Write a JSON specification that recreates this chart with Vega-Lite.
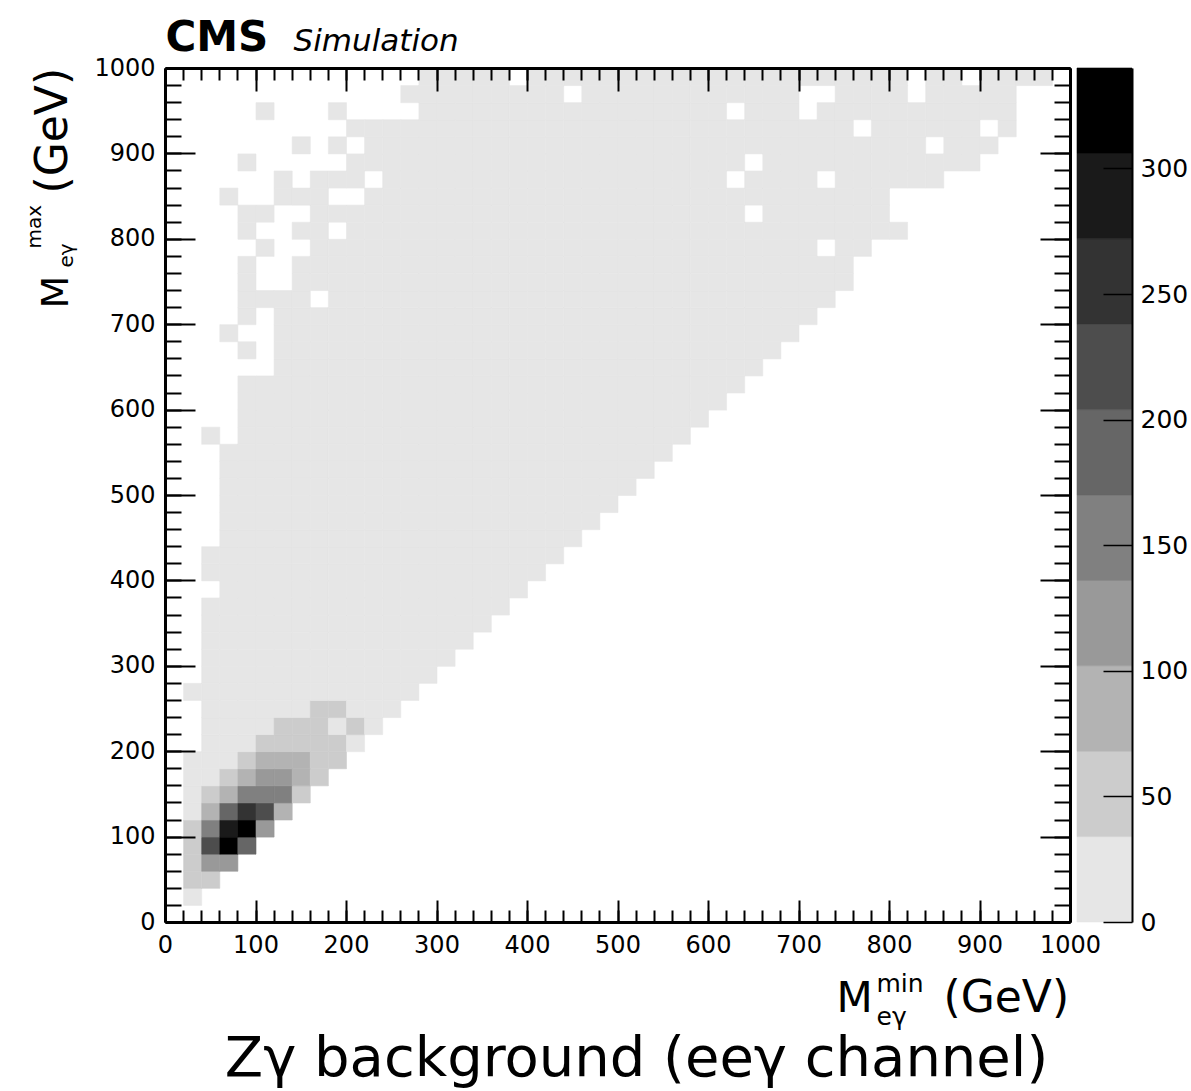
{
"$schema": "https://vega.github.io/schema/vega-lite/v6.json",
"width": 905,
"height": 854,
"autosize": {"type": "none"},
"padding": {"left": 165, "top": 68, "right": 121, "bottom": 169},
"background": "white",
"config": {
  "view": {"stroke": null},
  "font": "DejaVu Sans",
  "axis": {"grid": false, "labelFont": "DejaVu Sans", "labelColor": "black", "labelFontSize": 24, "format": "d", "tickColor": "black", "domainColor": "black", "titleColor": "black", "titleFont": "DejaVu Sans", "titleFontWeight": "normal", "labelFlush": false, "labelOverlap": false, "labelBound": false}
},
"datasets": {
"bands": [{"lo":0,"hi":34},{"lo":34,"hi":68},{"lo":68,"hi":102},{"lo":102,"hi":136},{"lo":136,"hi":170},{"lo":170,"hi":204},{"lo":204,"hi":238},{"lo":238,"hi":272},{"lo":272,"hi":306},{"lo":306,"hi":340}],
"cells": [
{"x":20,"y":20,"n":10},
{"x":20,"y":40,"n":50},{"x":40,"y":40,"n":50},
{"x":20,"y":60,"n":50},{"x":40,"y":60,"n":120},{"x":60,"y":60,"n":120},
{"x":20,"y":80,"n":50},{"x":40,"y":80,"n":220},{"x":60,"y":80,"n":325},{"x":80,"y":80,"n":185},
{"x":20,"y":100,"n":50},{"x":40,"y":100,"n":150},{"x":60,"y":100,"n":290},{"x":80,"y":100,"n":335},{"x":100,"y":100,"n":120},
{"x":20,"y":120,"n":10},{"x":40,"y":120,"n":85},{"x":60,"y":120,"n":190},{"x":80,"y":120,"n":255},{"x":100,"y":120,"n":220},{"x":120,"y":120,"n":85},
{"x":20,"y":140,"n":10},{"x":40,"y":140,"n":50},{"x":60,"y":140,"n":85},{"x":80,"y":140,"n":150},{"x":100,"y":140,"n":150},{"x":120,"y":140,"n":150},{"x":140,"y":140,"n":50},
{"x":20,"y":160,"n":10},{"x":40,"y":160,"n":10},{"x":60,"y":160,"n":50},{"x":80,"y":160,"n":85},{"x":100,"y":160,"n":120},{"x":120,"y":160,"n":120},{"x":140,"y":160,"n":85},{"x":160,"y":160,"n":50},
{"x":20,"y":180,"n":10},{"x":40,"y":180,"n":10},{"x":60,"y":180,"n":10},{"x":80,"y":180,"n":50},{"x":100,"y":180,"n":85},{"x":120,"y":180,"n":85},{"x":140,"y":180,"n":85},{"x":160,"y":180,"n":50},{"x":180,"y":180,"n":50},
{"x":40,"y":200,"n":10},{"x":60,"y":200,"n":10},{"x":80,"y":200,"n":10},{"x":100,"y":200,"n":50},{"x":120,"y":200,"n":50},{"x":140,"y":200,"n":50},{"x":160,"y":200,"n":50},{"x":180,"y":200,"n":50},{"x":200,"y":200,"n":10},
{"x":40,"y":220,"n":10},{"x":60,"y":220,"n":10},{"x":80,"y":220,"n":10},{"x":100,"y":220,"n":10},{"x":120,"y":220,"n":50},{"x":140,"y":220,"n":50},{"x":160,"y":220,"n":50},{"x":180,"y":220,"n":10},{"x":200,"y":220,"n":50},{"x":220,"y":220,"n":10},
{"x":40,"y":240,"n":10},{"x":60,"y":240,"n":10},{"x":80,"y":240,"n":10},{"x":100,"y":240,"n":10},{"x":120,"y":240,"n":10},{"x":140,"y":240,"n":10},{"x":160,"y":240,"n":50},{"x":180,"y":240,"n":50},{"x":200,"y":240,"n":10},{"x":220,"y":240,"n":10},{"x":240,"y":240,"n":10},
{"x":20,"y":260,"n":10},{"x":40,"y":260,"n":10},{"x":60,"y":260,"n":10},{"x":80,"y":260,"n":10},{"x":100,"y":260,"n":10},{"x":120,"y":260,"n":10},{"x":140,"y":260,"n":10},{"x":160,"y":260,"n":10},{"x":180,"y":260,"n":10},{"x":200,"y":260,"n":10},{"x":220,"y":260,"n":10},{"x":240,"y":260,"n":10},{"x":260,"y":260,"n":10},
{"x":40,"y":280,"n":10},{"x":60,"y":280,"n":10},{"x":80,"y":280,"n":10},{"x":100,"y":280,"n":10},{"x":120,"y":280,"n":10},{"x":140,"y":280,"n":10},{"x":160,"y":280,"n":10},{"x":180,"y":280,"n":10},{"x":200,"y":280,"n":10},{"x":220,"y":280,"n":10},{"x":240,"y":280,"n":10},{"x":260,"y":280,"n":10},{"x":280,"y":280,"n":10},
{"x":40,"y":300,"n":10},{"x":60,"y":300,"n":10},{"x":80,"y":300,"n":10},{"x":100,"y":300,"n":10},{"x":120,"y":300,"n":10},{"x":140,"y":300,"n":10},{"x":160,"y":300,"n":10},{"x":180,"y":300,"n":10},{"x":200,"y":300,"n":10},{"x":220,"y":300,"n":10},{"x":240,"y":300,"n":10},{"x":260,"y":300,"n":10},{"x":280,"y":300,"n":10},{"x":300,"y":300,"n":10},
{"x":40,"y":320,"n":10},{"x":60,"y":320,"n":10},{"x":80,"y":320,"n":10},{"x":100,"y":320,"n":10},{"x":120,"y":320,"n":10},{"x":140,"y":320,"n":10},{"x":160,"y":320,"n":10},{"x":180,"y":320,"n":10},{"x":200,"y":320,"n":10},{"x":220,"y":320,"n":10},{"x":240,"y":320,"n":10},{"x":260,"y":320,"n":10},{"x":280,"y":320,"n":10},{"x":300,"y":320,"n":10},{"x":320,"y":320,"n":10},
{"x":40,"y":340,"n":10},{"x":60,"y":340,"n":10},{"x":80,"y":340,"n":10},{"x":100,"y":340,"n":10},{"x":120,"y":340,"n":10},{"x":140,"y":340,"n":10},{"x":160,"y":340,"n":10},{"x":180,"y":340,"n":10},{"x":200,"y":340,"n":10},{"x":220,"y":340,"n":10},{"x":240,"y":340,"n":10},{"x":260,"y":340,"n":10},{"x":280,"y":340,"n":10},{"x":300,"y":340,"n":10},{"x":320,"y":340,"n":10},{"x":340,"y":340,"n":10},
{"x":40,"y":360,"n":10},{"x":60,"y":360,"n":10},{"x":80,"y":360,"n":10},{"x":100,"y":360,"n":10},{"x":120,"y":360,"n":10},{"x":140,"y":360,"n":10},{"x":160,"y":360,"n":10},{"x":180,"y":360,"n":10},{"x":200,"y":360,"n":10},{"x":220,"y":360,"n":10},{"x":240,"y":360,"n":10},{"x":260,"y":360,"n":10},{"x":280,"y":360,"n":10},{"x":300,"y":360,"n":10},{"x":320,"y":360,"n":10},{"x":340,"y":360,"n":10},{"x":360,"y":360,"n":10},
{"x":60,"y":380,"n":10},{"x":80,"y":380,"n":10},{"x":100,"y":380,"n":10},{"x":120,"y":380,"n":10},{"x":140,"y":380,"n":10},{"x":160,"y":380,"n":10},{"x":180,"y":380,"n":10},{"x":200,"y":380,"n":10},{"x":220,"y":380,"n":10},{"x":240,"y":380,"n":10},{"x":260,"y":380,"n":10},{"x":280,"y":380,"n":10},{"x":300,"y":380,"n":10},{"x":320,"y":380,"n":10},{"x":340,"y":380,"n":10},{"x":360,"y":380,"n":10},{"x":380,"y":380,"n":10},
{"x":40,"y":400,"n":10},{"x":60,"y":400,"n":10},{"x":80,"y":400,"n":10},{"x":100,"y":400,"n":10},{"x":120,"y":400,"n":10},{"x":140,"y":400,"n":10},{"x":160,"y":400,"n":10},{"x":180,"y":400,"n":10},{"x":200,"y":400,"n":10},{"x":220,"y":400,"n":10},{"x":240,"y":400,"n":10},{"x":260,"y":400,"n":10},{"x":280,"y":400,"n":10},{"x":300,"y":400,"n":10},{"x":320,"y":400,"n":10},{"x":340,"y":400,"n":10},{"x":360,"y":400,"n":10},{"x":380,"y":400,"n":10},{"x":400,"y":400,"n":10},
{"x":40,"y":420,"n":10},{"x":60,"y":420,"n":10},{"x":80,"y":420,"n":10},{"x":100,"y":420,"n":10},{"x":120,"y":420,"n":10},{"x":140,"y":420,"n":10},{"x":160,"y":420,"n":10},{"x":180,"y":420,"n":10},{"x":200,"y":420,"n":10},{"x":220,"y":420,"n":10},{"x":240,"y":420,"n":10},{"x":260,"y":420,"n":10},{"x":280,"y":420,"n":10},{"x":300,"y":420,"n":10},{"x":320,"y":420,"n":10},{"x":340,"y":420,"n":10},{"x":360,"y":420,"n":10},{"x":380,"y":420,"n":10},{"x":400,"y":420,"n":10},{"x":420,"y":420,"n":10},
{"x":60,"y":440,"n":10},{"x":80,"y":440,"n":10},{"x":100,"y":440,"n":10},{"x":120,"y":440,"n":10},{"x":140,"y":440,"n":10},{"x":160,"y":440,"n":10},{"x":180,"y":440,"n":10},{"x":200,"y":440,"n":10},{"x":220,"y":440,"n":10},{"x":240,"y":440,"n":10},{"x":260,"y":440,"n":10},{"x":280,"y":440,"n":10},{"x":300,"y":440,"n":10},{"x":320,"y":440,"n":10},{"x":340,"y":440,"n":10},{"x":360,"y":440,"n":10},{"x":380,"y":440,"n":10},{"x":400,"y":440,"n":10},{"x":420,"y":440,"n":10},{"x":440,"y":440,"n":10},
{"x":60,"y":460,"n":10},{"x":80,"y":460,"n":10},{"x":100,"y":460,"n":10},{"x":120,"y":460,"n":10},{"x":140,"y":460,"n":10},{"x":160,"y":460,"n":10},{"x":180,"y":460,"n":10},{"x":200,"y":460,"n":10},{"x":220,"y":460,"n":10},{"x":240,"y":460,"n":10},{"x":260,"y":460,"n":10},{"x":280,"y":460,"n":10},{"x":300,"y":460,"n":10},{"x":320,"y":460,"n":10},{"x":340,"y":460,"n":10},{"x":360,"y":460,"n":10},{"x":380,"y":460,"n":10},{"x":400,"y":460,"n":10},{"x":420,"y":460,"n":10},{"x":440,"y":460,"n":10},{"x":460,"y":460,"n":10},
{"x":60,"y":480,"n":10},{"x":80,"y":480,"n":10},{"x":100,"y":480,"n":10},{"x":120,"y":480,"n":10},{"x":140,"y":480,"n":10},{"x":160,"y":480,"n":10},{"x":180,"y":480,"n":10},{"x":200,"y":480,"n":10},{"x":220,"y":480,"n":10},{"x":240,"y":480,"n":10},{"x":260,"y":480,"n":10},{"x":280,"y":480,"n":10},{"x":300,"y":480,"n":10},{"x":320,"y":480,"n":10},{"x":340,"y":480,"n":10},{"x":360,"y":480,"n":10},{"x":380,"y":480,"n":10},{"x":400,"y":480,"n":10},{"x":420,"y":480,"n":10},{"x":440,"y":480,"n":10},{"x":460,"y":480,"n":10},{"x":480,"y":480,"n":10},
{"x":60,"y":500,"n":10},{"x":80,"y":500,"n":10},{"x":100,"y":500,"n":10},{"x":120,"y":500,"n":10},{"x":140,"y":500,"n":10},{"x":160,"y":500,"n":10},{"x":180,"y":500,"n":10},{"x":200,"y":500,"n":10},{"x":220,"y":500,"n":10},{"x":240,"y":500,"n":10},{"x":260,"y":500,"n":10},{"x":280,"y":500,"n":10},{"x":300,"y":500,"n":10},{"x":320,"y":500,"n":10},{"x":340,"y":500,"n":10},{"x":360,"y":500,"n":10},{"x":380,"y":500,"n":10},{"x":400,"y":500,"n":10},{"x":420,"y":500,"n":10},{"x":440,"y":500,"n":10},{"x":460,"y":500,"n":10},{"x":480,"y":500,"n":10},{"x":500,"y":500,"n":10},
{"x":60,"y":520,"n":10},{"x":80,"y":520,"n":10},{"x":100,"y":520,"n":10},{"x":120,"y":520,"n":10},{"x":140,"y":520,"n":10},{"x":160,"y":520,"n":10},{"x":180,"y":520,"n":10},{"x":200,"y":520,"n":10},{"x":220,"y":520,"n":10},{"x":240,"y":520,"n":10},{"x":260,"y":520,"n":10},{"x":280,"y":520,"n":10},{"x":300,"y":520,"n":10},{"x":320,"y":520,"n":10},{"x":340,"y":520,"n":10},{"x":360,"y":520,"n":10},{"x":380,"y":520,"n":10},{"x":400,"y":520,"n":10},{"x":420,"y":520,"n":10},{"x":440,"y":520,"n":10},{"x":460,"y":520,"n":10},{"x":480,"y":520,"n":10},{"x":500,"y":520,"n":10},{"x":520,"y":520,"n":10},
{"x":60,"y":540,"n":10},{"x":80,"y":540,"n":10},{"x":100,"y":540,"n":10},{"x":120,"y":540,"n":10},{"x":140,"y":540,"n":10},{"x":160,"y":540,"n":10},{"x":180,"y":540,"n":10},{"x":200,"y":540,"n":10},{"x":220,"y":540,"n":10},{"x":240,"y":540,"n":10},{"x":260,"y":540,"n":10},{"x":280,"y":540,"n":10},{"x":300,"y":540,"n":10},{"x":320,"y":540,"n":10},{"x":340,"y":540,"n":10},{"x":360,"y":540,"n":10},{"x":380,"y":540,"n":10},{"x":400,"y":540,"n":10},{"x":420,"y":540,"n":10},{"x":440,"y":540,"n":10},{"x":460,"y":540,"n":10},{"x":480,"y":540,"n":10},{"x":500,"y":540,"n":10},{"x":520,"y":540,"n":10},{"x":540,"y":540,"n":10},
{"x":40,"y":560,"n":10},{"x":80,"y":560,"n":10},{"x":100,"y":560,"n":10},{"x":120,"y":560,"n":10},{"x":140,"y":560,"n":10},{"x":160,"y":560,"n":10},{"x":180,"y":560,"n":10},{"x":200,"y":560,"n":10},{"x":220,"y":560,"n":10},{"x":240,"y":560,"n":10},{"x":260,"y":560,"n":10},{"x":280,"y":560,"n":10},{"x":300,"y":560,"n":10},{"x":320,"y":560,"n":10},{"x":340,"y":560,"n":10},{"x":360,"y":560,"n":10},{"x":380,"y":560,"n":10},{"x":400,"y":560,"n":10},{"x":420,"y":560,"n":10},{"x":440,"y":560,"n":10},{"x":460,"y":560,"n":10},{"x":480,"y":560,"n":10},{"x":500,"y":560,"n":10},{"x":520,"y":560,"n":10},{"x":540,"y":560,"n":10},{"x":560,"y":560,"n":10},
{"x":80,"y":580,"n":10},{"x":100,"y":580,"n":10},{"x":120,"y":580,"n":10},{"x":140,"y":580,"n":10},{"x":160,"y":580,"n":10},{"x":180,"y":580,"n":10},{"x":200,"y":580,"n":10},{"x":220,"y":580,"n":10},{"x":240,"y":580,"n":10},{"x":260,"y":580,"n":10},{"x":280,"y":580,"n":10},{"x":300,"y":580,"n":10},{"x":320,"y":580,"n":10},{"x":340,"y":580,"n":10},{"x":360,"y":580,"n":10},{"x":380,"y":580,"n":10},{"x":400,"y":580,"n":10},{"x":420,"y":580,"n":10},{"x":440,"y":580,"n":10},{"x":460,"y":580,"n":10},{"x":480,"y":580,"n":10},{"x":500,"y":580,"n":10},{"x":520,"y":580,"n":10},{"x":540,"y":580,"n":10},{"x":560,"y":580,"n":10},{"x":580,"y":580,"n":10},
{"x":80,"y":600,"n":10},{"x":100,"y":600,"n":10},{"x":120,"y":600,"n":10},{"x":140,"y":600,"n":10},{"x":160,"y":600,"n":10},{"x":180,"y":600,"n":10},{"x":200,"y":600,"n":10},{"x":220,"y":600,"n":10},{"x":240,"y":600,"n":10},{"x":260,"y":600,"n":10},{"x":280,"y":600,"n":10},{"x":300,"y":600,"n":10},{"x":320,"y":600,"n":10},{"x":340,"y":600,"n":10},{"x":360,"y":600,"n":10},{"x":380,"y":600,"n":10},{"x":400,"y":600,"n":10},{"x":420,"y":600,"n":10},{"x":440,"y":600,"n":10},{"x":460,"y":600,"n":10},{"x":480,"y":600,"n":10},{"x":500,"y":600,"n":10},{"x":520,"y":600,"n":10},{"x":540,"y":600,"n":10},{"x":560,"y":600,"n":10},{"x":580,"y":600,"n":10},{"x":600,"y":600,"n":10},
{"x":80,"y":620,"n":10},{"x":100,"y":620,"n":10},{"x":120,"y":620,"n":10},{"x":140,"y":620,"n":10},{"x":160,"y":620,"n":10},{"x":180,"y":620,"n":10},{"x":200,"y":620,"n":10},{"x":220,"y":620,"n":10},{"x":240,"y":620,"n":10},{"x":260,"y":620,"n":10},{"x":280,"y":620,"n":10},{"x":300,"y":620,"n":10},{"x":320,"y":620,"n":10},{"x":340,"y":620,"n":10},{"x":360,"y":620,"n":10},{"x":380,"y":620,"n":10},{"x":400,"y":620,"n":10},{"x":420,"y":620,"n":10},{"x":440,"y":620,"n":10},{"x":460,"y":620,"n":10},{"x":480,"y":620,"n":10},{"x":500,"y":620,"n":10},{"x":520,"y":620,"n":10},{"x":540,"y":620,"n":10},{"x":560,"y":620,"n":10},{"x":580,"y":620,"n":10},{"x":600,"y":620,"n":10},{"x":620,"y":620,"n":10},
{"x":120,"y":640,"n":10},{"x":140,"y":640,"n":10},{"x":160,"y":640,"n":10},{"x":180,"y":640,"n":10},{"x":200,"y":640,"n":10},{"x":220,"y":640,"n":10},{"x":240,"y":640,"n":10},{"x":260,"y":640,"n":10},{"x":280,"y":640,"n":10},{"x":300,"y":640,"n":10},{"x":320,"y":640,"n":10},{"x":340,"y":640,"n":10},{"x":360,"y":640,"n":10},{"x":380,"y":640,"n":10},{"x":400,"y":640,"n":10},{"x":420,"y":640,"n":10},{"x":440,"y":640,"n":10},{"x":460,"y":640,"n":10},{"x":480,"y":640,"n":10},{"x":500,"y":640,"n":10},{"x":520,"y":640,"n":10},{"x":540,"y":640,"n":10},{"x":560,"y":640,"n":10},{"x":580,"y":640,"n":10},{"x":600,"y":640,"n":10},{"x":620,"y":640,"n":10},{"x":640,"y":640,"n":10},
{"x":80,"y":660,"n":10},{"x":120,"y":660,"n":10},{"x":140,"y":660,"n":10},{"x":160,"y":660,"n":10},{"x":180,"y":660,"n":10},{"x":200,"y":660,"n":10},{"x":220,"y":660,"n":10},{"x":240,"y":660,"n":10},{"x":260,"y":660,"n":10},{"x":280,"y":660,"n":10},{"x":300,"y":660,"n":10},{"x":320,"y":660,"n":10},{"x":340,"y":660,"n":10},{"x":360,"y":660,"n":10},{"x":380,"y":660,"n":10},{"x":400,"y":660,"n":10},{"x":420,"y":660,"n":10},{"x":440,"y":660,"n":10},{"x":460,"y":660,"n":10},{"x":480,"y":660,"n":10},{"x":500,"y":660,"n":10},{"x":520,"y":660,"n":10},{"x":540,"y":660,"n":10},{"x":560,"y":660,"n":10},{"x":580,"y":660,"n":10},{"x":600,"y":660,"n":10},{"x":620,"y":660,"n":10},{"x":640,"y":660,"n":10},{"x":660,"y":660,"n":10},
{"x":60,"y":680,"n":10},{"x":120,"y":680,"n":10},{"x":140,"y":680,"n":10},{"x":160,"y":680,"n":10},{"x":180,"y":680,"n":10},{"x":200,"y":680,"n":10},{"x":220,"y":680,"n":10},{"x":240,"y":680,"n":10},{"x":260,"y":680,"n":10},{"x":280,"y":680,"n":10},{"x":300,"y":680,"n":10},{"x":320,"y":680,"n":10},{"x":340,"y":680,"n":10},{"x":360,"y":680,"n":10},{"x":380,"y":680,"n":10},{"x":400,"y":680,"n":10},{"x":420,"y":680,"n":10},{"x":440,"y":680,"n":10},{"x":460,"y":680,"n":10},{"x":480,"y":680,"n":10},{"x":500,"y":680,"n":10},{"x":520,"y":680,"n":10},{"x":540,"y":680,"n":10},{"x":560,"y":680,"n":10},{"x":580,"y":680,"n":10},{"x":600,"y":680,"n":10},{"x":620,"y":680,"n":10},{"x":640,"y":680,"n":10},{"x":660,"y":680,"n":10},{"x":680,"y":680,"n":10},
{"x":80,"y":700,"n":10},{"x":120,"y":700,"n":10},{"x":140,"y":700,"n":10},{"x":160,"y":700,"n":10},{"x":180,"y":700,"n":10},{"x":200,"y":700,"n":10},{"x":220,"y":700,"n":10},{"x":240,"y":700,"n":10},{"x":260,"y":700,"n":10},{"x":280,"y":700,"n":10},{"x":300,"y":700,"n":10},{"x":320,"y":700,"n":10},{"x":340,"y":700,"n":10},{"x":360,"y":700,"n":10},{"x":380,"y":700,"n":10},{"x":400,"y":700,"n":10},{"x":420,"y":700,"n":10},{"x":440,"y":700,"n":10},{"x":460,"y":700,"n":10},{"x":480,"y":700,"n":10},{"x":500,"y":700,"n":10},{"x":520,"y":700,"n":10},{"x":540,"y":700,"n":10},{"x":560,"y":700,"n":10},{"x":580,"y":700,"n":10},{"x":600,"y":700,"n":10},{"x":620,"y":700,"n":10},{"x":640,"y":700,"n":10},{"x":660,"y":700,"n":10},{"x":680,"y":700,"n":10},{"x":700,"y":700,"n":10},
{"x":80,"y":720,"n":10},{"x":100,"y":720,"n":10},{"x":120,"y":720,"n":10},{"x":140,"y":720,"n":10},{"x":180,"y":720,"n":10},{"x":200,"y":720,"n":10},{"x":220,"y":720,"n":10},{"x":240,"y":720,"n":10},{"x":260,"y":720,"n":10},{"x":280,"y":720,"n":10},{"x":300,"y":720,"n":10},{"x":320,"y":720,"n":10},{"x":340,"y":720,"n":10},{"x":360,"y":720,"n":10},{"x":380,"y":720,"n":10},{"x":400,"y":720,"n":10},{"x":420,"y":720,"n":10},{"x":440,"y":720,"n":10},{"x":460,"y":720,"n":10},{"x":480,"y":720,"n":10},{"x":500,"y":720,"n":10},{"x":520,"y":720,"n":10},{"x":540,"y":720,"n":10},{"x":560,"y":720,"n":10},{"x":580,"y":720,"n":10},{"x":600,"y":720,"n":10},{"x":620,"y":720,"n":10},{"x":640,"y":720,"n":10},{"x":660,"y":720,"n":10},{"x":680,"y":720,"n":10},{"x":700,"y":720,"n":10},{"x":720,"y":720,"n":10},
{"x":80,"y":740,"n":10},{"x":140,"y":740,"n":10},{"x":160,"y":740,"n":10},{"x":180,"y":740,"n":10},{"x":200,"y":740,"n":10},{"x":220,"y":740,"n":10},{"x":240,"y":740,"n":10},{"x":260,"y":740,"n":10},{"x":280,"y":740,"n":10},{"x":300,"y":740,"n":10},{"x":320,"y":740,"n":10},{"x":340,"y":740,"n":10},{"x":360,"y":740,"n":10},{"x":380,"y":740,"n":10},{"x":400,"y":740,"n":10},{"x":420,"y":740,"n":10},{"x":440,"y":740,"n":10},{"x":460,"y":740,"n":10},{"x":480,"y":740,"n":10},{"x":500,"y":740,"n":10},{"x":520,"y":740,"n":10},{"x":540,"y":740,"n":10},{"x":560,"y":740,"n":10},{"x":580,"y":740,"n":10},{"x":600,"y":740,"n":10},{"x":620,"y":740,"n":10},{"x":640,"y":740,"n":10},{"x":660,"y":740,"n":10},{"x":680,"y":740,"n":10},{"x":700,"y":740,"n":10},{"x":720,"y":740,"n":10},{"x":740,"y":740,"n":10},
{"x":80,"y":760,"n":10},{"x":140,"y":760,"n":10},{"x":160,"y":760,"n":10},{"x":180,"y":760,"n":10},{"x":200,"y":760,"n":10},{"x":220,"y":760,"n":10},{"x":240,"y":760,"n":10},{"x":260,"y":760,"n":10},{"x":280,"y":760,"n":10},{"x":300,"y":760,"n":10},{"x":320,"y":760,"n":10},{"x":340,"y":760,"n":10},{"x":360,"y":760,"n":10},{"x":380,"y":760,"n":10},{"x":400,"y":760,"n":10},{"x":420,"y":760,"n":10},{"x":440,"y":760,"n":10},{"x":460,"y":760,"n":10},{"x":480,"y":760,"n":10},{"x":500,"y":760,"n":10},{"x":520,"y":760,"n":10},{"x":540,"y":760,"n":10},{"x":560,"y":760,"n":10},{"x":580,"y":760,"n":10},{"x":600,"y":760,"n":10},{"x":620,"y":760,"n":10},{"x":640,"y":760,"n":10},{"x":660,"y":760,"n":10},{"x":680,"y":760,"n":10},{"x":700,"y":760,"n":10},{"x":720,"y":760,"n":10},{"x":740,"y":760,"n":10},
{"x":100,"y":780,"n":10},{"x":160,"y":780,"n":10},{"x":180,"y":780,"n":10},{"x":200,"y":780,"n":10},{"x":220,"y":780,"n":10},{"x":240,"y":780,"n":10},{"x":260,"y":780,"n":10},{"x":280,"y":780,"n":10},{"x":300,"y":780,"n":10},{"x":320,"y":780,"n":10},{"x":340,"y":780,"n":10},{"x":360,"y":780,"n":10},{"x":380,"y":780,"n":10},{"x":400,"y":780,"n":10},{"x":420,"y":780,"n":10},{"x":440,"y":780,"n":10},{"x":460,"y":780,"n":10},{"x":480,"y":780,"n":10},{"x":500,"y":780,"n":10},{"x":520,"y":780,"n":10},{"x":540,"y":780,"n":10},{"x":560,"y":780,"n":10},{"x":580,"y":780,"n":10},{"x":600,"y":780,"n":10},{"x":620,"y":780,"n":10},{"x":640,"y":780,"n":10},{"x":660,"y":780,"n":10},{"x":680,"y":780,"n":10},{"x":700,"y":780,"n":10},{"x":740,"y":780,"n":10},{"x":760,"y":780,"n":10},
{"x":80,"y":800,"n":10},{"x":140,"y":800,"n":10},{"x":160,"y":800,"n":10},{"x":200,"y":800,"n":10},{"x":220,"y":800,"n":10},{"x":240,"y":800,"n":10},{"x":260,"y":800,"n":10},{"x":280,"y":800,"n":10},{"x":300,"y":800,"n":10},{"x":320,"y":800,"n":10},{"x":340,"y":800,"n":10},{"x":360,"y":800,"n":10},{"x":380,"y":800,"n":10},{"x":400,"y":800,"n":10},{"x":420,"y":800,"n":10},{"x":440,"y":800,"n":10},{"x":460,"y":800,"n":10},{"x":480,"y":800,"n":10},{"x":500,"y":800,"n":10},{"x":520,"y":800,"n":10},{"x":540,"y":800,"n":10},{"x":560,"y":800,"n":10},{"x":580,"y":800,"n":10},{"x":600,"y":800,"n":10},{"x":620,"y":800,"n":10},{"x":640,"y":800,"n":10},{"x":660,"y":800,"n":10},{"x":680,"y":800,"n":10},{"x":700,"y":800,"n":10},{"x":720,"y":800,"n":10},{"x":740,"y":800,"n":10},{"x":760,"y":800,"n":10},{"x":780,"y":800,"n":10},{"x":800,"y":800,"n":10},
{"x":80,"y":820,"n":10},{"x":100,"y":820,"n":10},{"x":160,"y":820,"n":10},{"x":180,"y":820,"n":10},{"x":200,"y":820,"n":10},{"x":220,"y":820,"n":10},{"x":240,"y":820,"n":10},{"x":260,"y":820,"n":10},{"x":280,"y":820,"n":10},{"x":300,"y":820,"n":10},{"x":320,"y":820,"n":10},{"x":340,"y":820,"n":10},{"x":360,"y":820,"n":10},{"x":380,"y":820,"n":10},{"x":400,"y":820,"n":10},{"x":420,"y":820,"n":10},{"x":440,"y":820,"n":10},{"x":460,"y":820,"n":10},{"x":480,"y":820,"n":10},{"x":500,"y":820,"n":10},{"x":520,"y":820,"n":10},{"x":540,"y":820,"n":10},{"x":560,"y":820,"n":10},{"x":580,"y":820,"n":10},{"x":600,"y":820,"n":10},{"x":620,"y":820,"n":10},{"x":660,"y":820,"n":10},{"x":680,"y":820,"n":10},{"x":700,"y":820,"n":10},{"x":720,"y":820,"n":10},{"x":740,"y":820,"n":10},{"x":760,"y":820,"n":10},{"x":780,"y":820,"n":10},
{"x":60,"y":840,"n":10},{"x":120,"y":840,"n":10},{"x":140,"y":840,"n":10},{"x":160,"y":840,"n":10},{"x":220,"y":840,"n":10},{"x":240,"y":840,"n":10},{"x":260,"y":840,"n":10},{"x":280,"y":840,"n":10},{"x":300,"y":840,"n":10},{"x":320,"y":840,"n":10},{"x":340,"y":840,"n":10},{"x":360,"y":840,"n":10},{"x":380,"y":840,"n":10},{"x":400,"y":840,"n":10},{"x":420,"y":840,"n":10},{"x":440,"y":840,"n":10},{"x":460,"y":840,"n":10},{"x":480,"y":840,"n":10},{"x":500,"y":840,"n":10},{"x":520,"y":840,"n":10},{"x":540,"y":840,"n":10},{"x":560,"y":840,"n":10},{"x":580,"y":840,"n":10},{"x":600,"y":840,"n":10},{"x":620,"y":840,"n":10},{"x":640,"y":840,"n":10},{"x":660,"y":840,"n":10},{"x":680,"y":840,"n":10},{"x":700,"y":840,"n":10},{"x":720,"y":840,"n":10},{"x":740,"y":840,"n":10},{"x":760,"y":840,"n":10},{"x":780,"y":840,"n":10},
{"x":120,"y":860,"n":10},{"x":160,"y":860,"n":10},{"x":180,"y":860,"n":10},{"x":200,"y":860,"n":10},{"x":240,"y":860,"n":10},{"x":260,"y":860,"n":10},{"x":280,"y":860,"n":10},{"x":300,"y":860,"n":10},{"x":320,"y":860,"n":10},{"x":340,"y":860,"n":10},{"x":360,"y":860,"n":10},{"x":380,"y":860,"n":10},{"x":400,"y":860,"n":10},{"x":420,"y":860,"n":10},{"x":440,"y":860,"n":10},{"x":460,"y":860,"n":10},{"x":480,"y":860,"n":10},{"x":500,"y":860,"n":10},{"x":520,"y":860,"n":10},{"x":540,"y":860,"n":10},{"x":560,"y":860,"n":10},{"x":580,"y":860,"n":10},{"x":600,"y":860,"n":10},{"x":640,"y":860,"n":10},{"x":660,"y":860,"n":10},{"x":680,"y":860,"n":10},{"x":700,"y":860,"n":10},{"x":740,"y":860,"n":10},{"x":760,"y":860,"n":10},{"x":780,"y":860,"n":10},{"x":800,"y":860,"n":10},{"x":820,"y":860,"n":10},{"x":840,"y":860,"n":10},
{"x":80,"y":880,"n":10},{"x":200,"y":880,"n":10},{"x":220,"y":880,"n":10},{"x":240,"y":880,"n":10},{"x":260,"y":880,"n":10},{"x":280,"y":880,"n":10},{"x":300,"y":880,"n":10},{"x":320,"y":880,"n":10},{"x":340,"y":880,"n":10},{"x":360,"y":880,"n":10},{"x":380,"y":880,"n":10},{"x":400,"y":880,"n":10},{"x":420,"y":880,"n":10},{"x":440,"y":880,"n":10},{"x":460,"y":880,"n":10},{"x":480,"y":880,"n":10},{"x":500,"y":880,"n":10},{"x":520,"y":880,"n":10},{"x":540,"y":880,"n":10},{"x":560,"y":880,"n":10},{"x":580,"y":880,"n":10},{"x":600,"y":880,"n":10},{"x":620,"y":880,"n":10},{"x":660,"y":880,"n":10},{"x":680,"y":880,"n":10},{"x":700,"y":880,"n":10},{"x":720,"y":880,"n":10},{"x":740,"y":880,"n":10},{"x":760,"y":880,"n":10},{"x":780,"y":880,"n":10},{"x":800,"y":880,"n":10},{"x":820,"y":880,"n":10},{"x":840,"y":880,"n":10},{"x":860,"y":880,"n":10},{"x":880,"y":880,"n":10},
{"x":140,"y":900,"n":10},{"x":180,"y":900,"n":10},{"x":220,"y":900,"n":10},{"x":240,"y":900,"n":10},{"x":260,"y":900,"n":10},{"x":280,"y":900,"n":10},{"x":300,"y":900,"n":10},{"x":320,"y":900,"n":10},{"x":340,"y":900,"n":10},{"x":360,"y":900,"n":10},{"x":380,"y":900,"n":10},{"x":400,"y":900,"n":10},{"x":420,"y":900,"n":10},{"x":440,"y":900,"n":10},{"x":460,"y":900,"n":10},{"x":480,"y":900,"n":10},{"x":500,"y":900,"n":10},{"x":520,"y":900,"n":10},{"x":540,"y":900,"n":10},{"x":560,"y":900,"n":10},{"x":580,"y":900,"n":10},{"x":600,"y":900,"n":10},{"x":620,"y":900,"n":10},{"x":640,"y":900,"n":10},{"x":660,"y":900,"n":10},{"x":680,"y":900,"n":10},{"x":700,"y":900,"n":10},{"x":720,"y":900,"n":10},{"x":740,"y":900,"n":10},{"x":760,"y":900,"n":10},{"x":780,"y":900,"n":10},{"x":800,"y":900,"n":10},{"x":820,"y":900,"n":10},{"x":860,"y":900,"n":10},{"x":880,"y":900,"n":10},{"x":900,"y":900,"n":10},
{"x":200,"y":920,"n":10},{"x":220,"y":920,"n":10},{"x":240,"y":920,"n":10},{"x":260,"y":920,"n":10},{"x":280,"y":920,"n":10},{"x":300,"y":920,"n":10},{"x":320,"y":920,"n":10},{"x":340,"y":920,"n":10},{"x":360,"y":920,"n":10},{"x":380,"y":920,"n":10},{"x":400,"y":920,"n":10},{"x":420,"y":920,"n":10},{"x":440,"y":920,"n":10},{"x":460,"y":920,"n":10},{"x":480,"y":920,"n":10},{"x":500,"y":920,"n":10},{"x":520,"y":920,"n":10},{"x":540,"y":920,"n":10},{"x":560,"y":920,"n":10},{"x":580,"y":920,"n":10},{"x":600,"y":920,"n":10},{"x":620,"y":920,"n":10},{"x":640,"y":920,"n":10},{"x":660,"y":920,"n":10},{"x":680,"y":920,"n":10},{"x":700,"y":920,"n":10},{"x":720,"y":920,"n":10},{"x":740,"y":920,"n":10},{"x":780,"y":920,"n":10},{"x":800,"y":920,"n":10},{"x":820,"y":920,"n":10},{"x":840,"y":920,"n":10},{"x":860,"y":920,"n":10},{"x":880,"y":920,"n":10},{"x":920,"y":920,"n":10},
{"x":100,"y":940,"n":10},{"x":180,"y":940,"n":10},{"x":280,"y":940,"n":10},{"x":300,"y":940,"n":10},{"x":320,"y":940,"n":10},{"x":340,"y":940,"n":10},{"x":360,"y":940,"n":10},{"x":380,"y":940,"n":10},{"x":400,"y":940,"n":10},{"x":420,"y":940,"n":10},{"x":440,"y":940,"n":10},{"x":460,"y":940,"n":10},{"x":480,"y":940,"n":10},{"x":500,"y":940,"n":10},{"x":520,"y":940,"n":10},{"x":540,"y":940,"n":10},{"x":560,"y":940,"n":10},{"x":580,"y":940,"n":10},{"x":600,"y":940,"n":10},{"x":640,"y":940,"n":10},{"x":660,"y":940,"n":10},{"x":680,"y":940,"n":10},{"x":720,"y":940,"n":10},{"x":740,"y":940,"n":10},{"x":760,"y":940,"n":10},{"x":780,"y":940,"n":10},{"x":800,"y":940,"n":10},{"x":820,"y":940,"n":10},{"x":840,"y":940,"n":10},{"x":860,"y":940,"n":10},{"x":880,"y":940,"n":10},{"x":900,"y":940,"n":10},{"x":920,"y":940,"n":10},
{"x":260,"y":960,"n":10},{"x":280,"y":960,"n":10},{"x":300,"y":960,"n":10},{"x":320,"y":960,"n":10},{"x":340,"y":960,"n":10},{"x":360,"y":960,"n":10},{"x":380,"y":960,"n":10},{"x":400,"y":960,"n":10},{"x":420,"y":960,"n":10},{"x":460,"y":960,"n":10},{"x":480,"y":960,"n":10},{"x":500,"y":960,"n":10},{"x":520,"y":960,"n":10},{"x":540,"y":960,"n":10},{"x":560,"y":960,"n":10},{"x":580,"y":960,"n":10},{"x":600,"y":960,"n":10},{"x":620,"y":960,"n":10},{"x":640,"y":960,"n":10},{"x":660,"y":960,"n":10},{"x":680,"y":960,"n":10},{"x":740,"y":960,"n":10},{"x":760,"y":960,"n":10},{"x":780,"y":960,"n":10},{"x":800,"y":960,"n":10},{"x":840,"y":960,"n":10},{"x":860,"y":960,"n":10},{"x":880,"y":960,"n":10},{"x":900,"y":960,"n":10},{"x":920,"y":960,"n":10},
{"x":280,"y":980,"n":10},{"x":300,"y":980,"n":10},{"x":320,"y":980,"n":10},{"x":340,"y":980,"n":10},{"x":360,"y":980,"n":10},{"x":400,"y":980,"n":10},{"x":420,"y":980,"n":10},{"x":440,"y":980,"n":10},{"x":460,"y":980,"n":10},{"x":480,"y":980,"n":10},{"x":500,"y":980,"n":10},{"x":520,"y":980,"n":10},{"x":540,"y":980,"n":10},{"x":560,"y":980,"n":10},{"x":580,"y":980,"n":10},{"x":600,"y":980,"n":10},{"x":620,"y":980,"n":10},{"x":640,"y":980,"n":10},{"x":660,"y":980,"n":10},{"x":680,"y":980,"n":10},{"x":700,"y":980,"n":10},{"x":720,"y":980,"n":10},{"x":740,"y":980,"n":10},{"x":760,"y":980,"n":10},{"x":780,"y":980,"n":10},{"x":800,"y":980,"n":10},{"x":840,"y":980,"n":10},{"x":860,"y":980,"n":10},{"x":900,"y":980,"n":10},{"x":920,"y":980,"n":10},{"x":940,"y":980,"n":10},{"x":960,"y":980,"n":10}
]
},
"layer": [
  {"data": {"name": "cells"},
   "mark": {"type": "rect", "strokeWidth": 0.6},
   "encoding": {
     "x": {"field": "x", "type": "quantitative", "bin": {"binned": true, "step": 20}, "scale": {"domain": [0, 1000], "nice": false, "zero": false},
           "axis": {"orient": "bottom", "values": [0,100,200,300,400,500,600,700,800,900,1000], "ticks": false, "tickSize": 0, "domain": false, "labelPadding": 11, "labelFontSize": 24,
                    "title": "M", "titleX": 671, "titleY": 89, "titleAlign": "left", "titleBaseline": "alphabetic", "titleAngle": 0, "titleFontSize": 42}},
     "y": {"field": "y", "type": "quantitative", "bin": {"binned": true, "step": 20}, "scale": {"domain": [0, 1000], "nice": false, "zero": false},
           "axis": {"orient": "left", "values": [0,100,200,300,400,500,600,700,800,900,1000], "ticks": false, "tickSize": 0, "domain": false, "labelPadding": 10, "labelFontSize": 24,
                    "title": "M", "titleX": -98, "titleY": 240, "titleAlign": "left", "titleBaseline": "alphabetic", "titleAngle": -90, "titleFontSize": 38}},
     "color": {"field": "n", "type": "quantitative", "scale": {"type": "threshold", "domain": [34,68,102,136,170,204,238,272,306], "range": ["#e6e6e6","#cccccc","#b3b3b3","#999999","#808080","#666666","#4d4d4d","#333333","#1a1a1a","#000000"]}, "legend": null},
     "stroke": {"field": "n", "type": "quantitative", "scale": {"type": "threshold", "domain": [34,68,102,136,170,204,238,272,306], "range": ["#e6e6e6","#cccccc","#b3b3b3","#999999","#808080","#666666","#4d4d4d","#333333","#1a1a1a","#000000"]}, "legend": null}
   }},
  {"data": {"name": "cells"},
   "transform": [{"filter": "datum.n > 300"}],
   "mark": {"type": "rect", "opacity": 0},
   "encoding": {
     "x": {"field": "x", "type": "quantitative", "bin": {"binned": true, "step": 20}, "scale": {"domain": [0, 1000], "nice": false, "zero": false},
           "axis": {"orient": "bottom", "values": [0,100,200,300,400,500,600,700,800,900,1000], "labels": false, "tickSize": -22, "tickWidth": 2, "domain": true, "domainWidth": 3, "zindex": 2,
                    "title": "min", "titleX": 711, "titleY": 69, "titleAlign": "left", "titleBaseline": "alphabetic", "titleAngle": 0, "titleFontSize": 25}},
     "y": {"field": "y", "type": "quantitative", "bin": {"binned": true, "step": 20}, "scale": {"domain": [0, 1000], "nice": false, "zero": false},
           "axis": {"orient": "left", "values": [0,100,200,300,400,500,600,700,800,900,1000], "labels": false, "tickSize": -30, "tickWidth": 2, "domain": true, "domainWidth": 3, "zindex": 2,
                    "title": "max", "titleX": -125, "titleY": 180, "titleAlign": "left", "titleBaseline": "alphabetic", "titleAngle": -90, "titleFontSize": 20}}
   }},
  {"data": {"name": "cells"},
   "transform": [{"filter": "datum.n > 300"}],
   "mark": {"type": "rect", "opacity": 0},
   "encoding": {
     "x": {"field": "x", "type": "quantitative", "bin": {"binned": true, "step": 20}, "scale": {"domain": [0, 1000], "nice": false, "zero": false},
           "axis": {"orient": "bottom", "values": [0,20,40,60,80,100,120,140,160,180,200,220,240,260,280,300,320,340,360,380,400,420,440,460,480,500,520,540,560,580,600,620,640,660,680,700,720,740,760,780,800,820,840,860,880,900,920,940,960,980,1000], "labels": false, "tickSize": -12, "tickWidth": 2, "domain": false, "zindex": 2,
                    "title": "eγ", "titleX": 711, "titleY": 102, "titleAlign": "left", "titleBaseline": "alphabetic", "titleAngle": 0, "titleFontSize": 25}},
     "y": {"field": "y", "type": "quantitative", "bin": {"binned": true, "step": 20}, "scale": {"domain": [0, 1000], "nice": false, "zero": false},
           "axis": {"orient": "left", "values": [0,20,40,60,80,100,120,140,160,180,200,220,240,260,280,300,320,340,360,380,400,420,440,460,480,500,520,540,560,580,600,620,640,660,680,700,720,740,760,780,800,820,840,860,880,900,920,940,960,980,1000], "labels": false, "tickSize": -16, "tickWidth": 2, "domain": false, "zindex": 2,
                    "title": "eγ", "titleX": -93, "titleY": 199, "titleAlign": "left", "titleBaseline": "alphabetic", "titleAngle": -90, "titleFontSize": 20}}
   }},
  {"data": {"name": "cells"},
   "transform": [{"filter": "datum.n > 300"}],
   "mark": {"type": "rect", "opacity": 0},
   "encoding": {
     "x": {"field": "x", "type": "quantitative", "bin": {"binned": true, "step": 20}, "scale": {"domain": [0, 1000], "nice": false, "zero": false},
           "axis": {"orient": "top", "values": [0,100,200,300,400,500,600,700,800,900,1000], "labels": false, "tickSize": -23, "tickWidth": 2, "domain": true, "domainWidth": 3, "zindex": 2,
                    "title": "CMS", "titleX": 0, "titleY": -18, "titleAlign": "left", "titleBaseline": "alphabetic", "titleAngle": 0, "titleFontSize": 42, "titleFontWeight": "bold"}},
     "y": {"field": "y", "type": "quantitative", "bin": {"binned": true, "step": 20}, "scale": {"domain": [0, 1000], "nice": false, "zero": false},
           "axis": {"orient": "right", "values": [0,100,200,300,400,500,600,700,800,900,1000], "labels": false, "tickSize": -30, "tickWidth": 2, "domain": true, "domainWidth": 3, "zindex": 2,
                    "title": "(GeV)", "titleX": -127, "titleY": 943, "titleAlign": "left", "titleBaseline": "alphabetic", "titleAngle": 0, "titleFontSize": 44}}
   }},
  {"data": {"name": "cells"},
   "transform": [{"filter": "datum.n > 300"}],
   "mark": {"type": "rect", "opacity": 0},
   "encoding": {
     "x": {"field": "x", "type": "quantitative", "bin": {"binned": true, "step": 20}, "scale": {"domain": [0, 1000], "nice": false, "zero": false},
           "axis": {"orient": "top", "values": [0,20,40,60,80,100,120,140,160,180,200,220,240,260,280,300,320,340,360,380,400,420,440,460,480,500,520,540,560,580,600,620,640,660,680,700,720,740,760,780,800,820,840,860,880,900,920,940,960,980,1000], "labels": false, "tickSize": -12, "tickWidth": 2, "domain": false, "zindex": 2,
                    "title": "Simulation", "titleX": 128, "titleY": -18, "titleAlign": "left", "titleBaseline": "alphabetic", "titleAngle": 0, "titleFontSize": 31, "titleFontStyle": "italic"}},
     "y": {"field": "y", "type": "quantitative", "bin": {"binned": true, "step": 20}, "scale": {"domain": [0, 1000], "nice": false, "zero": false},
           "axis": {"orient": "right", "values": [0,20,40,60,80,100,120,140,160,180,200,220,240,260,280,300,320,340,360,380,400,420,440,460,480,500,520,540,560,580,600,620,640,660,680,700,720,740,760,780,800,820,840,860,880,900,920,940,960,980,1000], "labels": false, "tickSize": -16, "tickWidth": 2, "domain": false, "zindex": 2,
                    "title": "(GeV)", "titleX": -1004, "titleY": 125, "titleAlign": "left", "titleBaseline": "alphabetic", "titleAngle": -90, "titleFontSize": 44}}
   }},
  {"data": {"name": "bands"},
   "mark": {"type": "rect", "strokeWidth": 0.6},
   "encoding": {
     "x": {"datum": 0, "type": "quantitative", "scale": {"domain": [0, 1], "range": [912, 967], "nice": false, "zero": false}, "axis": null},
     "x2": {"datum": 1},
     "y": {"field": "lo", "type": "quantitative", "scale": {"domain": [0, 340], "nice": false, "zero": false},
           "axis": {"orient": "right", "offset": 62, "values": [0,50,100,150,200,250,300], "ticks": false, "tickSize": 0, "domain": false, "labelPadding": 8, "labelFontSize": 25, "title": null}},
     "y2": {"field": "hi"},
     "color": {"field": "lo", "type": "quantitative", "scale": {"type": "threshold", "domain": [34,68,102,136,170,204,238,272,306], "range": ["#e6e6e6","#cccccc","#b3b3b3","#999999","#808080","#666666","#4d4d4d","#333333","#1a1a1a","#000000"]}, "legend": null},
     "stroke": {"field": "lo", "type": "quantitative", "scale": {"type": "threshold", "domain": [34,68,102,136,170,204,238,272,306], "range": ["#e6e6e6","#cccccc","#b3b3b3","#999999","#808080","#666666","#4d4d4d","#333333","#1a1a1a","#000000"]}, "legend": null}
   }},
  {"data": {"name": "bands"},
   "mark": {"type": "rect", "opacity": 0},
   "encoding": {
     "x": {"datum": 0, "type": "quantitative", "scale": {"domain": [0, 1], "range": [912, 967], "nice": false, "zero": false}, "axis": null},
     "x2": {"datum": 1},
     "y": {"field": "lo", "type": "quantitative", "scale": {"domain": [0, 340], "nice": false, "zero": false},
           "axis": {"orient": "right", "offset": 62, "values": [0,50,100,150,200,250,300], "labels": false, "tickSize": -29, "tickWidth": 1.5, "domain": true, "domainWidth": 2, "zindex": 2,
                    "title": "Zγ background (eeγ channel)", "titleX": -496, "titleY": 1007, "titleAlign": "center", "titleBaseline": "alphabetic", "titleAngle": 0, "titleFont": "DejaVu Sans", "titleFontSize": 56}},
     "y2": {"field": "hi"}
   }}
],
"resolve": {"scale": {"x": "independent", "y": "independent"}, "axis": {"x": "independent", "y": "independent"}}
}
